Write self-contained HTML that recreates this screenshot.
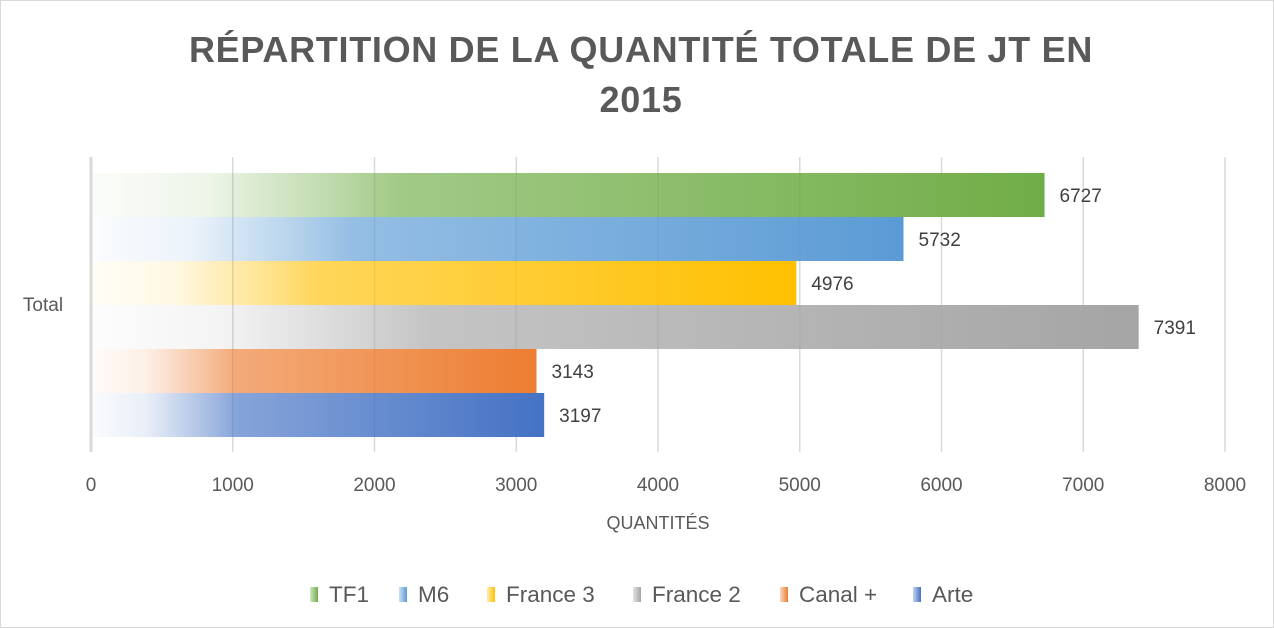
<!DOCTYPE html>
<html><head><meta charset="utf-8"><style>
body{margin:0;background:#fff;}
svg{display:block;font-family:"Liberation Sans",sans-serif;}
</style></head><body>
<svg id="c" width="1274" height="628">
<rect x="0.5" y="0.5" width="1273" height="627" fill="#fff" stroke="#d9d9d9"/>
<text x="641" y="62" text-anchor="middle" font-size="36" font-weight="bold" fill="#595959" letter-spacing="0.7">RÉPARTITION DE LA QUANTITÉ TOTALE DE JT EN</text>
<text x="641" y="112" text-anchor="middle" font-size="36" font-weight="bold" fill="#595959" letter-spacing="0.7">2015</text>
<defs id="defs"></defs>
<g id="grid"></g>
<g id="bars"></g>
<g id="legend"></g>
</svg>
<script>
const series = ["TF1","M6","France 3","France 2","Canal +","Arte"];
const values = [6727,5732,4976,7391,3143,3197];
const colors = ["#70AD47","#5B9BD5","#FFC000","#A5A5A5","#ED7D31","#4472C4"];
const ticks = [0,1000,2000,3000,4000,5000,6000,7000,8000];
const NS="http://www.w3.org/2000/svg";
const x0=91, x1=1225, xmax=8000, topY=173, bh=44;
const X=v=>x0+(x1-x0)*v/xmax;
const defs=document.getElementById('defs'), grid=document.getElementById('grid'), bars=document.getElementById('bars'), leg=document.getElementById('legend');
function mk(t,a,p){const e=document.createElementNS(NS,t);for(const k in a)e.setAttribute(k,a[k]);p.appendChild(e);return e;}
ticks.forEach((t,i)=>{
  const l=mk('line',{x1:X(t),x2:X(t),y1:157,y2:452,stroke:'#d9d9d9','stroke-width':t===0?3:1.5},grid);
  
  
  const tx=mk('text',{x:X(t),y:491,'text-anchor':'middle','font-size':19,fill:'#595959'},grid);
  tx.textContent=t;
  
  
});
const yl=mk('text',{x:43,y:311,'text-anchor':'middle','font-size':19,fill:'#595959'},grid);
yl.textContent='Total';


const xt=mk('text',{x:658,y:529,'text-anchor':'middle','font-size':18,fill:'#595959'},grid);
xt.textContent='QUANTITÉS';


function grad(id,c){
  const g=mk('linearGradient',{id:id,x1:0,x2:1,y1:0,y2:0},defs);
  [[0,0.03],[0.12,0.12],[0.25,0.45],[0.32,0.65],[1,1]].forEach(s=>mk('stop',{offset:s[0],'stop-color':c,'stop-opacity':s[1]},g));
}
series.forEach((s,i)=>{
  grad('g'+i,colors[i]);
  const y=topY+i*bh;
  const r=mk('rect',{x:X(0)+2,y:y,width:X(values[i])-X(0)-2,height:bh,fill:'url(#g'+i+')'},bars);
  
  
  const t=mk('text',{x:X(values[i])+15,y:y+bh/2+7,'font-size':19,fill:'#404040'},bars);
  t.textContent=values[i];
  
  
});
const lx=[310,399,487,633,780,913];
series.forEach((s,i)=>{
  const g=mk('linearGradient',{id:'lg'+i,x1:0,x2:1},defs);
  mk('stop',{offset:0,'stop-color':colors[i],'stop-opacity':0.3},g);
  mk('stop',{offset:1,'stop-color':colors[i],'stop-opacity':1},g);
  const r=mk('rect',{x:lx[i],y:587,width:8,height:15,fill:'url(#lg'+i+')'},leg);
  
  
  const t=mk('text',{x:lx[i]+19,y:602,'font-size':22.5,fill:'#595959'},leg);
  t.textContent=s;
  
  
});
</script>
</body></html>
